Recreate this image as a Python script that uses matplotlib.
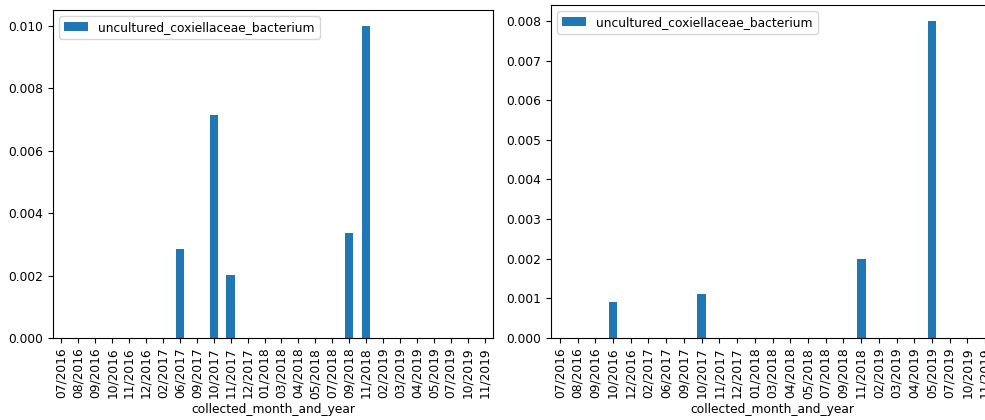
import matplotlib
matplotlib.use("Agg")
import matplotlib.pyplot as plt
import numpy as np

plt.rcParams["font.size"] = 8.8

series_name = "uncultured_coxiellaceae_bacterium"

# left panel
left_months = ["07/2016", "08/2016", "09/2016", "10/2016", "11/2016", "12/2016",
               "02/2017", "06/2017", "09/2017", "10/2017", "11/2017", "12/2017",
               "01/2018", "03/2018", "04/2018", "05/2018", "07/2018", "09/2018",
               "11/2018", "02/2019", "03/2019", "04/2019", "05/2019", "07/2019",
               "10/2019", "11/2019"]
left_values = [0, 0, 0, 0, 0, 0,
               0, 0.00285, 0, 0.00715, 0.00202, 0,
               0, 0, 0, 0, 0, 0.00336,
               0.0100, 0, 0, 0, 0, 0,
               0, 0]

# right panel
right_months = ["07/2016", "08/2016", "09/2016", "10/2016", "12/2016", "02/2017",
                "06/2017", "09/2017", "10/2017", "11/2017", "12/2017", "01/2018",
                "03/2018", "04/2018", "05/2018", "07/2018", "09/2018", "11/2018",
                "02/2019", "03/2019", "04/2019", "05/2019", "07/2019", "10/2019",
                "11/2019"]
right_values = [0, 0, 0, 0.00091, 0, 0,
                0, 0, 0.00111, 0, 0, 0,
                0, 0, 0, 0, 0, 0.0020,
                0, 0, 0, 0.0080, 0, 0,
                0]

fig = plt.figure(figsize=(9.85, 4.2), dpi=100)
ax1 = fig.add_axes([53 / 985, 82 / 420, 440 / 985, 328 / 420])
ax2 = fig.add_axes([551 / 985, 82 / 420, 443 / 985, 333 / 420])


def draw(ax, months, values):
    x = np.arange(len(months))
    ax.bar(x, values, width=0.5, color="#1f77b4", label=series_name)
    ax.set_xlim(-0.5, len(months) - 0.5)
    ax.set_ylim(0, max(values) * 1.05)
    ax.set_xticks(x)
    ax.set_xticklabels(months, rotation=90)
    ax.set_xlabel("collected_month_and_year", labelpad=3)
    ax.legend(loc="upper left")


draw(ax1, left_months, left_values)
draw(ax2, right_months, right_values)
ax1.set_yticks(np.arange(0, 0.0101, 0.002))
ax1.yaxis.set_major_formatter(matplotlib.ticker.FormatStrFormatter("%.3f"))
ax2.set_yticks(np.arange(0, 0.0081, 0.001))
ax2.yaxis.set_major_formatter(matplotlib.ticker.FormatStrFormatter("%.3f"))

fig.savefig("out.png", dpi=100)
